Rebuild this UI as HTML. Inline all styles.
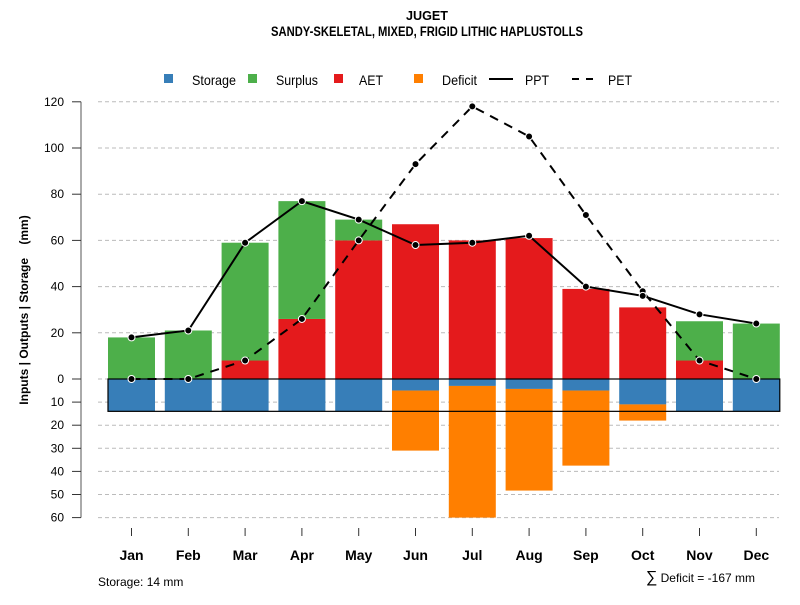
<!DOCTYPE html>
<html><head><meta charset="utf-8"><style>
body{margin:0;background:#fff;font-family:"Liberation Sans",sans-serif}
</style></head><body>
<svg id="chart" width="800" height="600" viewBox="0 0 800 600" xmlns="http://www.w3.org/2000/svg" font-family="Liberation Sans, sans-serif">
<text x="427" y="20" text-anchor="middle" font-size="13" font-weight="bold" textLength="42" lengthAdjust="spacingAndGlyphs">JUGET</text>
<text x="427" y="36" text-anchor="middle" font-size="13.5" font-weight="bold" textLength="312" lengthAdjust="spacingAndGlyphs">SANDY-SKELETAL, MIXED, FRIGID LITHIC HAPLUSTOLLS</text>
<g font-size="14">
<rect x="164" y="74" width="9" height="9" fill="#377eb8"/>
<text x="192" y="85" textLength="44" lengthAdjust="spacingAndGlyphs">Storage</text>
<rect x="248" y="74" width="9" height="9" fill="#4daf4a"/>
<text x="276" y="85" textLength="42" lengthAdjust="spacingAndGlyphs">Surplus</text>
<rect x="334" y="74" width="9" height="9" fill="#e41a1c"/>
<text x="359" y="85" textLength="24" lengthAdjust="spacingAndGlyphs">AET</text>
<rect x="414" y="74" width="9" height="9" fill="#ff7f00"/>
<text x="442" y="85" textLength="35" lengthAdjust="spacingAndGlyphs">Deficit</text>
<line x1="489" y1="79" x2="513" y2="79" stroke="#000" stroke-width="2"/>
<text x="525" y="85" textLength="24" lengthAdjust="spacingAndGlyphs">PPT</text>
<line x1="572" y1="79" x2="593" y2="79" stroke="#000" stroke-width="2" stroke-dasharray="7,7"/>
<text x="608" y="85" textLength="24" lengthAdjust="spacingAndGlyphs">PET</text>
</g>
<g id="grid"></g><g id="bars"></g><g id="lines"></g><g id="axes"></g>
<text transform="translate(28,310) rotate(-90)" text-anchor="middle" font-size="12" font-weight="bold" style="white-space:pre" xml:space="preserve">Inputs | Outputs | Storage    (mm)</text>
<text x="98" y="586" font-size="12">Storage: 14 mm</text>
<text x="755" y="582" text-anchor="end" font-size="12"><tspan font-size="16">∑</tspan> Deficit = -167 mm</text>
</svg>
<script>
const months=["Jan","Feb","Mar","Apr","May","Jun","Jul","Aug","Sep","Oct","Nov","Dec"];
const aet=[0,0,8,26,60,67,60,61,39,31,8,0];
const surplus=[18,21,51,51,9,0,0,0,0,0,17,24];
const storage=[14,14,14,14,14,5,3,4.3,5,11,14,14];
const deficit=[0,0,0,0,0,26,57,44,32.5,7,0,0];
const ppt=[18,21,59,77,69,58,59,62,40,36,28,24];
const pet=[0,0,8,26,60,93,118,105,71,38,8,0];
const yTicksUp=[0,20,40,60,80,100,120];
const yTicksDown=[10,20,30,40,50,60];
const storageCap=14;
const NS="http://www.w3.org/2000/svg";
const y0=379, k=2.31;
const yUp=v=>y0-v*k, yDn=v=>y0+v*k;
const xC=i=>131.5+i*56.8, bw=47;
function mk(p,t,a){const e=document.createElementNS(NS,t);for(const n in a)e.setAttribute(n,a[n]);document.getElementById(p).appendChild(e);return e;}
yTicksUp.forEach(v=>{const g=mk('grid','line',{x1:98,x2:779,y1:yUp(v),y2:yUp(v),stroke:'#bbb','stroke-dasharray':'4,3'});

});
yTicksDown.forEach(v=>{const g=mk('grid','line',{x1:98,x2:779,y1:yDn(v),y2:yDn(v),stroke:'#bbb','stroke-dasharray':'4,3'});

});
months.forEach((m,i)=>{const x=xC(i)-bw/2;
let r=mk('bars','rect',{x:x,y:yUp(aet[i]),width:bw,height:aet[i]*k,fill:'#e41a1c'});


r=mk('bars','rect',{x:x,y:yUp(aet[i]+surplus[i]),width:bw,height:surplus[i]*k,fill:'#4daf4a'});


r=mk('bars','rect',{x:x,y:y0,width:bw,height:storage[i]*k,fill:'#377eb8'});


r=mk('bars','rect',{x:x,y:yDn(storage[i]),width:bw,height:deficit[i]*k,fill:'#ff7f00'});


});
const box=mk('bars','rect',{x:xC(0)-bw/2,y:y0,width:xC(11)+bw/2-(xC(0)-bw/2),height:storageCap*k,fill:'none',stroke:'#000','stroke-width':1.2});


function series(arr,name,dash){
const l=mk('lines','polyline',{points:arr.map((v,i)=>xC(i)+','+yUp(v)).join(' '),fill:'none',stroke:'#000','stroke-width':2,'stroke-dasharray':dash});


arr.forEach((v,i)=>{const c=mk('lines','circle',{cx:xC(i),cy:yUp(v),r:3.5,fill:'#000',stroke:'#fff','stroke-width':1});

});}
series(pet,'pet','9,7');
series(ppt,'ppt','none');
const ax=mk('axes','line',{x1:81,x2:81,y1:yUp(120),y2:yDn(60),stroke:'#555','stroke-width':1});


function ytick(y,lab){const t=mk('axes','line',{x1:72,x2:81,y1:y,y2:y,stroke:'#333'});


const tx=mk('axes','text',{x:64,y:y+4,'text-anchor':'end','font-size':12});tx.textContent=lab;

}
yTicksUp.forEach(v=>ytick(yUp(v),v));
yTicksDown.forEach(v=>ytick(yDn(v),v));
months.forEach((m,i)=>{const t=mk('axes','line',{x1:xC(i),x2:xC(i),y1:528,y2:536,stroke:'#333'});


const tx=mk('axes','text',{x:xC(i),y:560,'text-anchor':'middle','font-size':14,'font-weight':'bold'});tx.textContent=m;

});
</script>
</body></html>
